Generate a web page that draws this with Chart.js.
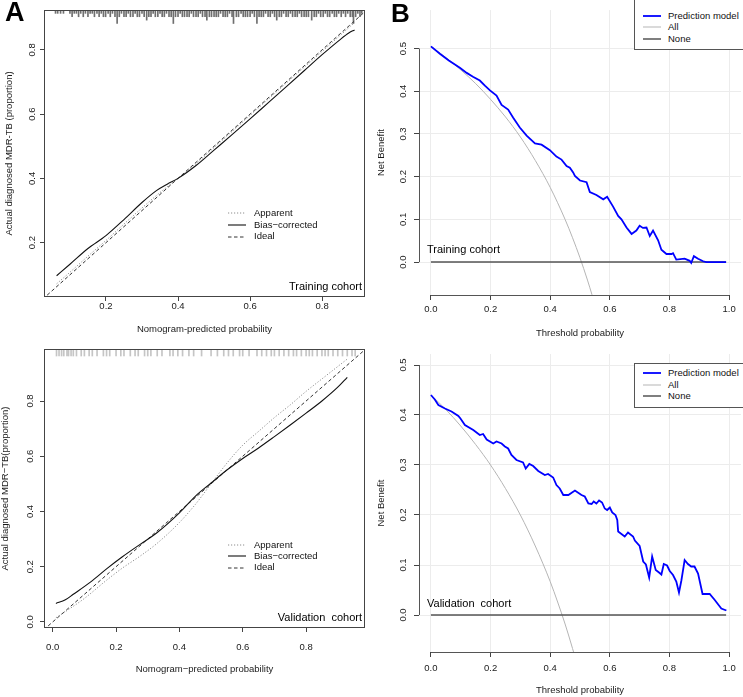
<!DOCTYPE html>
<html>
<head>
<meta charset="utf-8">
<title>Calibration and decision curves</title>
<script src="https://cdn.jsdelivr.net/npm/chart.js@4.4.1/dist/chart.umd.min.js"></script>
<style>
  html, body { margin:0; padding:0; background:#fff; }
  body { width:743px; height:697px; position:relative; overflow:hidden; font-family:"Liberation Sans", Arial, Helvetica, sans-serif; }
  canvas { position:absolute; display:block; }
  .t { position:absolute; white-space:pre; color:#111; }
  .leg { position:absolute; border:1px solid #555; background:#fff; box-sizing:border-box; }
</style>
</head>
<body>
<canvas id="cTL" width="372" height="340" style="left:0;top:0;width:372px;height:340px"></canvas>
<canvas id="cBL" width="372" height="357" style="left:0;top:340px;width:372px;height:357px"></canvas>
<canvas id="cTR" width="371" height="340" style="left:372px;top:0;width:371px;height:340px"></canvas>
<canvas id="cBR" width="371" height="357" style="left:372px;top:340px;width:371px;height:357px"></canvas>
<script>
// ---------------- DATA ----------------
const calTicksTrain = [0.2, 0.4, 0.6, 0.8];
const calTicksValid = [0.0, 0.2, 0.4, 0.6, 0.8];
const dcaXTicks = [0.0, 0.2, 0.4, 0.6, 0.8, 1.0];
const dcaYTicks = [0.0, 0.1, 0.2, 0.3, 0.4, 0.5];

const calLegendLabels = ['Apparent', 'Bias\u2212corrected', 'Ideal'];
const dcaLegendLabels = ['Prediction model', 'All', 'None'];

const idealX = [-0.1, 1.1];

// Training calibration
const trainBiasX = [0.063,0.10,0.15,0.20,0.25,0.30,0.34,0.37,0.40,0.45,0.50,0.55,0.60,0.65,0.70,0.75,0.80,0.85,0.875,0.89];
const trainBiasY = [0.097,0.133,0.182,0.222,0.272,0.325,0.362,0.382,0.400,0.440,0.488,0.536,0.585,0.635,0.685,0.735,0.785,0.832,0.853,0.862];
const trainAppX = [0.063,0.10,0.15,0.20,0.25,0.30,0.35,0.40,0.45,0.50,0.60,0.70,0.80,0.89];
const trainAppY = [0.072,0.108,0.158,0.207,0.258,0.308,0.356,0.400,0.446,0.496,0.596,0.696,0.795,0.885];
const trainRugX = [
  0.060,0.066,0.074,0.082,0.100,0.106,0.112,0.118,0.124,0.130,
  0.137,0.143,0.150,0.156,0.162,0.168,0.175,0.181,0.187,0.193,
  0.199,0.206,0.212,0.218,0.225,0.231,0.237,0.243,0.250,0.256,
  0.262,0.268,0.275,0.281,0.287,0.293,0.300,0.306,0.313,0.319,
  0.325,0.331,0.337,0.344,0.350,0.356,0.362,0.368,0.375,0.381,
  0.387,0.393,0.400,0.406,0.412,0.418,0.425,0.431,0.437,0.443,
  0.450,0.456,0.462,0.468,0.475,0.480,0.487,0.493,0.500,0.506,
  0.512,0.518,0.525,0.531,0.537,0.543,0.550,0.554,0.562,0.568,
  0.575,0.581,0.587,0.593,0.600,0.606,0.612,0.619,0.625,0.631,
  0.637,0.643,0.650,0.656,0.662,0.668,0.674,0.681,0.687,0.693,
  0.700,0.706,0.712,0.718,0.725,0.731,0.737,0.743,0.750,0.756,
  0.762,0.771,0.778,0.784,0.790,0.796,0.803,0.809,0.815,0.821,
  0.828,0.834,0.840,0.846,0.853,0.859,0.865,0.871,0.878,0.884,
  0.887,0.893,0.899,0.905,0.910];
const trainRugCount = [
  1,1,1,1,1,2,1,1,2,1,
  2,1,2,1,1,2,1,2,1,2,
  2,1,2,1,2,4,2,1,2,2,
  1,2,2,1,2,2,1,2,3,2,
  2,1,2,2,1,2,2,1,2,2,
  4,2,2,1,2,2,2,2,1,2,
  2,2,1,2,2,3,2,2,2,2,
  2,1,2,2,2,1,2,4,2,2,
  1,2,2,2,2,1,2,4,2,2,
  2,1,2,2,1,2,3,2,2,1,
  2,2,1,2,2,2,1,2,2,2,
  2,3,2,2,1,2,2,1,2,2,
  1,2,2,1,2,1,2,1,2,2,
  4,2,1,2,1];

// Validation calibration
const validBiasX = [0.010,0.04,0.065,0.12,0.171,0.22,0.276,0.328,0.40,0.45,0.50,0.55,0.60,0.65,0.70,0.75,0.80,0.85,0.90,0.93];
const validBiasY = [0.067,0.080,0.100,0.145,0.193,0.236,0.281,0.322,0.395,0.455,0.503,0.550,0.592,0.630,0.671,0.713,0.756,0.800,0.850,0.886];
const validAppX = [0.01,0.05,0.10,0.171,0.22,0.278,0.33,0.40,0.45,0.50,0.55,0.60,0.65,0.70,0.75,0.80,0.85,0.90,0.93];
const validAppY = [0.015,0.045,0.085,0.152,0.195,0.240,0.285,0.360,0.425,0.500,0.575,0.640,0.690,0.740,0.786,0.835,0.880,0.925,0.952];
const validRugX = [0.012,0.020,0.028,0.035,0.045,0.050,0.058,0.065,0.075,0.090,0.100,0.115,0.125,0.140,0.160,0.170,0.180,0.200,0.215,0.225,
  0.245,0.260,0.270,0.290,0.300,0.310,0.330,0.345,0.370,0.380,0.395,0.410,0.430,0.445,0.470,0.500,0.520,0.540,0.555,0.570,
  0.590,0.600,0.620,0.645,0.660,0.675,0.690,0.700,0.715,0.730,0.745,0.760,0.770,0.785,0.800,0.810,0.820,0.835,0.850,0.860,
  0.870,0.885,0.900,0.915,0.930,0.945,0.955];

// Decision curves - training
const trainModelX = [0,0.03,0.06,0.097,0.12,0.141,0.164,0.181,0.198,0.22,0.237,0.259,0.276,0.298,0.321,0.349,0.371,0.399,0.421,0.438,
  0.455,0.466,0.477,0.483,0.50,0.522,0.533,0.555,0.578,0.591,0.611,0.628,0.639,0.656,0.673,0.689,0.70,0.711,0.723,0.734,
  0.745,0.762,0.773,0.79,0.807,0.812,0.823,0.851,0.868,0.873,0.882,0.896,0.913,0.924,0.99];
const trainModelNB = [0.505,0.488,0.472,0.455,0.443,0.434,0.425,0.413,0.402,0.390,0.368,0.357,0.338,0.315,0.296,0.278,0.275,0.262,0.247,0.240,
  0.225,0.221,0.210,0.202,0.191,0.187,0.164,0.157,0.147,0.153,0.130,0.108,0.100,0.081,0.066,0.074,0.085,0.080,0.081,0.061,
  0.074,0.051,0.029,0.019,0.019,0.021,0.006,0.008,0.003,-0.002,0.014,0.008,0.002,0.000,0.000];
const trainAllX = [0,0.05,0.10,0.15,0.20,0.25,0.30,0.35,0.40,0.45,0.475,0.50,0.525,0.54,0.55];
const trainAllNB = [0.505,0.479,0.450,0.418,0.381,0.340,0.293,0.238,0.175,0.100,0.057,0.010,-0.042,-0.076,-0.100];

// Decision curves - validation
const validModelX = [0,0.013,0.025,0.047,0.069,0.092,0.099,0.114,0.142,0.164,0.175,0.187,0.209,0.22,0.237,0.248,0.259,0.27,0.287,0.309,
  0.318,0.33,0.343,0.36,0.382,0.393,0.41,0.421,0.432,0.444,0.461,0.483,0.505,0.516,0.528,0.539,0.546,0.555,0.564,0.574,
  0.583,0.591,0.60,0.608,0.619,0.625,0.628,0.65,0.661,0.678,0.684,0.70,0.712,0.721,0.732,0.742,0.754,0.765,0.773,0.781,
  0.792,0.801,0.812,0.823,0.832,0.84,0.851,0.862,0.873,0.884,0.896,0.911,0.935,0.952,0.974,0.991];
const validModelNB = [0.440,0.431,0.420,0.413,0.407,0.398,0.393,0.380,0.370,0.360,0.362,0.351,0.343,0.347,0.343,0.337,0.333,0.320,0.310,0.305,
  0.293,0.302,0.298,0.288,0.280,0.282,0.275,0.260,0.253,0.240,0.240,0.249,0.240,0.237,0.223,0.222,0.227,0.223,0.229,0.225,
  0.213,0.210,0.215,0.205,0.200,0.190,0.167,0.157,0.165,0.157,0.149,0.138,0.107,0.101,0.075,0.117,0.090,0.085,0.081,0.102,
  0.099,0.088,0.080,0.067,0.045,0.069,0.110,0.102,0.097,0.097,0.083,0.042,0.042,0.030,0.013,0.009];
const validAllX = [0,0.05,0.10,0.15,0.20,0.25,0.30,0.35,0.40,0.425,0.45,0.475,0.49];
const validAllNB = [0.440,0.411,0.378,0.341,0.300,0.253,0.200,0.138,0.067,0.026,-0.018,-0.067,-0.098];

const noneX = [0, 0.99];
const noneNB = [0, 0];

// ---------------- HELPERS ----------------
Chart.defaults.font.family = '"Liberation Sans", Arial, Helvetica, sans-serif';
Chart.defaults.font.size = 9.5;
Chart.defaults.color = '#1a1a1a';
Chart.defaults.animation = false;

const zip = (xs, ys) => xs.map((x, i) => ({x: x, y: ys[i]}));
const fixTicks = vals => s => { s.ticks = vals.map(v => ({value: v})); };
const fmt1 = v => Number(v).toFixed(1);

const boxPlugin = {
  id: 'box',
  afterDatasetsDraw(chart) {
    const {ctx, chartArea: a} = chart;
    ctx.save();
    ctx.strokeStyle = '#444'; ctx.lineWidth = 1;
    ctx.strokeRect(Math.round(a.left) + 0.5, Math.round(a.top) + 0.5, Math.round(a.right - a.left) - 1, Math.round(a.bottom - a.top) - 1);
    ctx.restore();
  }
};
const rAxesPlugin = {
  id: 'rAxes',
  afterDatasetsDraw(chart) {
    const {ctx, chartArea: a, scales: {x, y}} = chart;
    ctx.save();
    ctx.strokeStyle = '#555'; ctx.lineWidth = 1;
    ctx.beginPath();
    const by = Math.round(a.bottom) + 0.5;
    ctx.moveTo(x.getPixelForValue(dcaXTicks[0]), by);
    ctx.lineTo(x.getPixelForValue(dcaXTicks[dcaXTicks.length - 1]), by);
    const lx = Math.round(a.left) + 0.5;
    ctx.moveTo(lx, y.getPixelForValue(dcaYTicks[0]));
    ctx.lineTo(lx, y.getPixelForValue(dcaYTicks[dcaYTicks.length - 1]));
    ctx.stroke();
    ctx.restore();
  }
};

function scales(p, onArea) {
  const grid = {display: true, drawOnChartArea: onArea, color: '#ececec', lineWidth: 1, drawTicks: true,
                tickLength: p.tl, tickColor: '#444', offset: false};
  return {
    x: {type: 'linear', min: p.xMin, max: p.xMax, offset: false,
        afterBuildTicks: fixTicks(p.xTicks), afterFit: s => { s.height = p.xH; },
        grid: grid, border: {display: false},
        ticks: {padding: p.xTickPad, callback: fmt1, maxRotation: 0, autoSkip: false, color: '#1a1a1a'},
        title: {display: true, text: p.xTitle, color: '#1a1a1a', padding: {top: 0, bottom: p.xTitlePad}}},
    y: {type: 'linear', min: p.yMin, max: p.yMax,
        afterBuildTicks: fixTicks(p.yTicks), afterFit: s => { s.width = p.yW; },
        grid: grid, border: {display: false},
        ticks: {padding: p.yTickPad, minRotation: 90, maxRotation: 90, crossAlign: 'center', callback: fmt1, autoSkip: false, color: '#1a1a1a'},
        title: {display: true, text: p.yTitle, color: '#1a1a1a', padding: {top: p.yTitlePad, bottom: 0}}}
  };
}

function calChart(id, d, p) {
  return new Chart(document.getElementById(id), {
    type: 'line',
    data: {datasets: [
      {data: zip(d.biasX, d.biasY), borderColor: '#111', borderWidth: 1.1, pointRadius: 0, cubicInterpolationMode: 'monotone'},
      {data: zip(d.appX, d.appY), borderColor: '#8d8d8d', borderWidth: 1, borderDash: [1.2, 1.8], pointRadius: 0, cubicInterpolationMode: 'monotone'},
      {data: zip(idealX, idealX), borderColor: '#333', borderWidth: 1, borderDash: [3.5, 2.5], pointRadius: 0},
      {type: 'bar', data: d.rugX.map((x, i) => ({x: x, y: [p.yMax - d.rugLen[i], p.yMax]})),
       backgroundColor: d.rugColor, borderWidth: 0, barThickness: 1, grouped: false}
    ]},
    options: {responsive: false, animation: false, events: [],
      layout: {padding: p.pad},
      plugins: {legend: {display: false}, tooltip: {enabled: false}},
      scales: scales(p, false)},
    plugins: [boxPlugin]
  });
}

function dcaChart(id, d, p) {
  return new Chart(document.getElementById(id), {
    type: 'line',
    data: {datasets: [
      {data: zip(d.modelX, d.modelNB), borderColor: '#0000ff', borderWidth: 1.8, pointRadius: 0},
      {data: zip(noneX, noneNB), borderColor: '#555', borderWidth: 1.5, pointRadius: 0},
      {data: zip(d.allX, d.allNB), borderColor: '#b5b5b5', borderWidth: 1, pointRadius: 0, cubicInterpolationMode: 'monotone'}
    ]},
    options: {responsive: false, animation: false, events: [],
      layout: {padding: p.pad},
      plugins: {legend: {display: false}, tooltip: {enabled: false}},
      scales: scales(p, true)},
    plugins: [rAxesPlugin]
  });
}

// ---------------- CHARTS ----------------
calChart('cTL',
  {biasX: trainBiasX, biasY: trainBiasY, appX: trainAppX, appY: trainAppY,
   rugX: trainRugX, rugLen: trainRugCount.map(c => c * 0.0105), rugColor: '#6f6f6f'},
  {pad: {left: 0, top: 10, right: 7, bottom: 0}, xMin: 0.028, xMax: 0.919, yMin: 0.031, yMax: 0.924,
   xTicks: calTicksTrain, yTicks: calTicksTrain, xH: 43, yW: 44, tl: 4,
   xTickPad: 0, yTickPad: 1.4, xTitlePad: 5, yTitlePad: 3.3,
   xTitle: 'Nomogram-predicted probability', yTitle: 'Actual diagnosed MDR-TB (proportion)'});

calChart('cBL',
  {biasX: validBiasX, biasY: validBiasY, appX: validAppX, appY: validAppY,
   rugX: validRugX, rugLen: validRugX.map(() => 0.025), rugColor: 'rgba(150,150,150,0.55)'},
  {pad: {left: 0, top: 0, right: 7, bottom: 0}, xMin: -0.0275, xMax: 0.986, yMin: -0.022, yMax: 0.988,
   xTicks: calTicksValid, yTicks: calTicksValid, xH: 69, yW: 44, tl: 4,
   xTickPad: 9.3, yTickPad: 3.4, xTitlePad: 22, yTitlePad: 0,
   xTitle: 'Nomogram\u2212predicted probability', yTitle: 'Actual diagnosed MDR\u2212TB(proportion)'});

dcaChart('cTR',
  {modelX: trainModelX, modelNB: trainModelNB, allX: trainAllX, allNB: trainAllNB},
  {pad: {left: 0, top: 0, right: 2, bottom: 0}, xMin: -0.04, xMax: 1.04, yMin: -0.077, yMax: 0.59,
   xTicks: dcaXTicks, yTicks: dcaYTicks, xH: 45, yW: 47, tl: 5,
   xTickPad: 4, yTickPad: 4.4, xTitlePad: 1, yTitlePad: 3.3,
   xTitle: 'Threshold probability', yTitle: 'Net Benefit'});

dcaChart('cBR',
  {modelX: validModelX, modelNB: validModelNB, allX: validAllX, allNB: validAllNB},
  {pad: {left: 0, top: 14, right: 2, bottom: 0}, xMin: -0.04, xMax: 1.04, yMin: -0.074, yMax: 0.522,
   xTicks: dcaXTicks, yTicks: dcaYTicks, xH: 45, yW: 47, tl: 5,
   xTickPad: 5.6, yTickPad: 4.4, xTitlePad: 0.5, yTitlePad: 3.3,
   xTitle: 'Threshold probability', yTitle: 'Net Benefit'});

// ---------------- OVERLAY TEXT / LEGENDS ----------------
const NS = 'http://www.w3.org/2000/svg';
function addText(txt, x, cy, size, opt) {
  opt = opt || {};
  const d = document.createElement('div');
  d.className = 't';
  d.textContent = txt;
  d.style.fontSize = size + 'px';
  d.style.lineHeight = (size * 1.3) + 'px';
  d.style.top = (cy - size * 0.65) + 'px';
  if (opt.right != null) d.style.right = (743 - opt.right) + 'px'; else d.style.left = x + 'px';
  if (opt.bold) d.style.fontWeight = 'bold';
  if (opt.color) d.style.color = opt.color;
  document.body.appendChild(d);
  return d;
}
function legendLine(x1, x2, cy, stroke, width, dash) {
  const s = document.createElementNS(NS, 'svg');
  s.setAttribute('width', x2 - x1); s.setAttribute('height', 6);
  s.style.position = 'absolute'; s.style.left = x1 + 'px'; s.style.top = (cy - 3) + 'px';
  const l = document.createElementNS(NS, 'line');
  l.setAttribute('x1', 0); l.setAttribute('y1', 3); l.setAttribute('x2', x2 - x1); l.setAttribute('y2', 3);
  l.setAttribute('stroke', stroke); l.setAttribute('stroke-width', width);
  if (dash) l.setAttribute('stroke-dasharray', dash);
  s.appendChild(l);
  document.body.appendChild(s);
}
function calLegend(rows) {
  const styles = [['#8d8d8d', 1, '1.2 1.8'], ['#111', 1.1, null], ['#333', 1, '3.5 2.5']];
  calLegendLabels.forEach((lab, i) => {
    legendLine(228, 246, rows[i], styles[i][0], styles[i][1], styles[i][2]);
    addText(lab, 254, rows[i], 9.5);
  });
}
function dcaLegend(top, height, rows) {
  const b = document.createElement('div');
  b.className = 'leg';
  b.style.left = '634px'; b.style.top = top + 'px'; b.style.width = '110px'; b.style.height = height + 'px';
  document.body.appendChild(b);
  const styles = [['#0000ff', 1.8], ['#b5b5b5', 1], ['#555', 1.5]];
  dcaLegendLabels.forEach((lab, i) => {
    legendLine(643, 661, rows[i], styles[i][0], styles[i][1], null);
    addText(lab, 668, rows[i], 9.5);
  });
}

calLegend([213.3, 225, 236.6]);
calLegend([545, 556.3, 567.6]);
dcaLegend(-2, 51.5, [16, 27.3, 38.7]);
dcaLegend(362.5, 45, [373.3, 385, 396.3]);

addText('Training cohort', 0, 286, 11, {right: 362, color: '#000'});
addText('Validation  cohort', 0, 617, 11, {right: 362, color: '#000'});
addText('Training cohort', 427, 249.5, 11, {color: '#000'});
addText('Validation  cohort', 427, 603.5, 11, {color: '#000'});

addText('A', 5, 12.5, 27, {bold: true, color: '#000'});
addText('B', 391, 13.5, 26, {bold: true, color: '#000'});
</script>
</body>
</html>
